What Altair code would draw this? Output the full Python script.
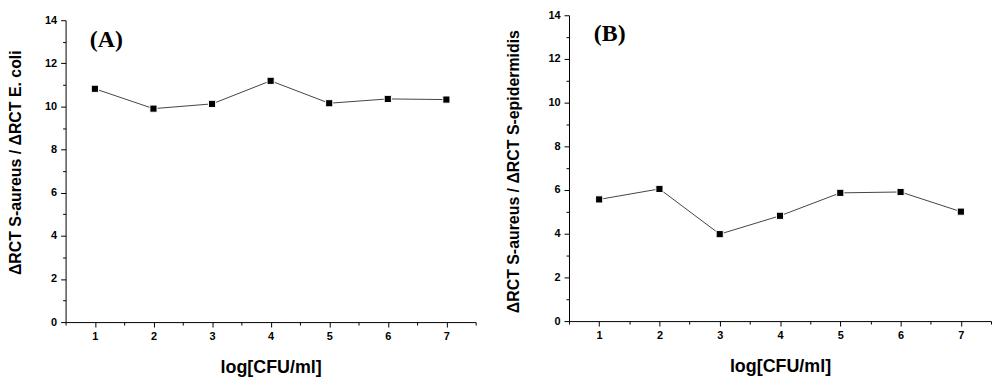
import altair as alt
import pandas as pd

# ---- data ----
log_cfu = [1, 2, 3, 4, 5, 6, 7]
ratio_a = [10.82, 9.90, 10.12, 11.19, 10.15, 10.35, 10.32]   # S-aureus / E. coli
ratio_b = [5.57, 6.05, 3.98, 4.82, 5.87, 5.91, 5.01]         # S-aureus / S-epidermidis
y_tick_values = list(range(0, 15))
x_tick_values = [0.5, 1, 1.5, 2, 2.5, 3, 3.5, 4, 4.5, 5, 5.5, 6, 6.5, 7, 7.5]
x_title = "log[CFU/ml]"
y_title_a = "ΔRCT S-aureus / ΔRCT E. coli"
y_title_b = "ΔRCT S-aureus / ΔRCT S-epidermidis"
panel_labels = ["(A)", "(B)"]

FONT = "Liberation Sans"


def panel(values, label, ytitle, w, h, y_range, title_x, title_y, label_y):
    df = pd.DataFrame({"x": log_cfu, "y": values})
    xaxis = alt.Axis(
        values=x_tick_values,
        labelExpr="datum.value == round(datum.value) ? format(datum.value, 'd') : ''",
        tickSize={"condition": {"test": "datum.value != round(datum.value)", "value": 3}, "value": 5},
        title=x_title,
        titleFontSize=18,
        titlePadding=17,
        labelPadding=4,
        labelFlush=False,
        labelOverlap=False,
        grid=False,
    )
    yaxis = alt.Axis(
        values=y_tick_values,
        labelExpr="datum.value % 2 == 0 ? datum.label : ''",
        tickSize={"condition": {"test": "datum.value % 2 != 0", "value": 3}, "value": 5},
        title=ytitle,
        titleFontSize=16,
        titleX=title_x,
        titleY=title_y,
        labelPadding=4,
        labelOverlap=False,
        grid=False,
    )
    xs = alt.Scale(domain=[0.5, 7.5], nice=False, zero=False)
    ys = alt.Scale(domain=[0, 14], nice=False, range=y_range)
    base = alt.Chart(df)
    line = base.mark_line(color="#444444", strokeWidth=1).encode(
        x=alt.X("x:Q", scale=xs, axis=xaxis),
        y=alt.Y("y:Q", scale=ys, axis=yaxis),
    )
    pts = base.mark_point(
        shape="square", filled=True, size=52, color="black",
        stroke="white", strokeWidth=1, opacity=1,
    ).encode(x=alt.X("x:Q", scale=xs, axis=xaxis), y=alt.Y("y:Q", scale=ys, axis=yaxis))
    lab = alt.Chart(alt.Data(values=[{"t": label}])).mark_text(
        font="Liberation Serif", fontWeight="bold", fontSize=24,
        align="center", baseline="middle", color="black",
    ).encode(text="t:N", x=alt.value(41), y=alt.value(label_y))
    return alt.layer(line, pts, lab).properties(width=w, height=h)


pa = panel(ratio_a, panel_labels[0], y_title_a, 413, 309, [309, 5], -42, 148, 25)
pb = panel(ratio_b, panel_labels[1], y_title_b, 425, 308, [308, 0], -48, 157, 19)

chart = alt.hconcat(pa, pb, spacing=29).properties(padding=0).configure_view(
    stroke=None
).configure_axis(
    domainColor="black",
    domainWidth=1,
    tickColor="black",
    tickWidth=1,
    labelFont=FONT,
    labelFontWeight="bold",
    labelFontSize=11,
    labelColor="black",
    labelOverlap=False,
    labelFlush=False,
    titleFont=FONT,
    titleFontWeight="bold",
    titleColor="black",
)

chart.save("out.html", embed_options={"renderer": "svg", "actions": False})
